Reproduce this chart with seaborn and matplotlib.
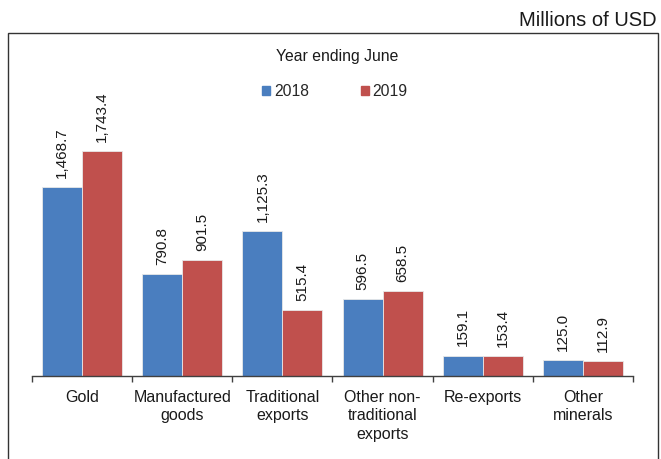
import matplotlib
matplotlib.use("Agg")
import matplotlib.pyplot as plt
import matplotlib.patches as mpatches
import pandas as pd
import seaborn as sns

# Export categories and values (millions of USD), year ending June
categories = ["Gold", "Manufactured\ngoods", "Traditional\nexports",
              "Other non-\ntraditional\nexports", "Re-exports", "Other\nminerals"]
years = ["2018", "2019"]
values_2018 = [1468.7, 790.8, 1125.3, 596.5, 159.1, 125.0]
values_2019 = [1743.4, 901.5, 515.4, 658.5, 153.4, 112.9]

df = pd.DataFrame({
    "category": categories * 2,
    "year": [years[0]] * len(categories) + [years[1]] * len(categories),
    "value": values_2018 + values_2019,
})

sns.set_theme(style="white")
plt.rcParams["font.family"] = ["Liberation Sans", "DejaVu Sans"]

W, H = 661, 459
fig = plt.figure(figsize=(W / 100, H / 100), dpi=100)

# Axes placed in pixel terms: x 32..633, baseline at y=376
ax_left, ax_right = 32, 633
base_y = 376
ymax = 2000
px_per_unit = 0.1288
ax_h = ymax * px_per_unit
ax = fig.add_axes([ax_left / W, 1 - base_y / H, (ax_right - ax_left) / W, ax_h / H])

palette = {"2018": "#4A7EBF", "2019": "#C0504D"}
sns.barplot(data=df, x="category", y="value", hue="year", order=categories,
            hue_order=years, palette=palette, width=0.8, ax=ax,
            edgecolor="#E8E8E8", linewidth=0.6, legend=False, saturation=1)

for cont in ax.containers:
    labels = [f"{b.get_height():,.1f}" for b in cont]
    ax.bar_label(cont, labels=labels, rotation=90, padding=6.5, fontsize=11,
                 color="#1a1a1a", clip_on=False)

ax.set_ylim(0, ymax)
ax.set_xlim(-0.5, len(categories) - 0.5)
ax.set_xlabel("")
ax.set_ylabel("")
ax.set_yticks([])
for s in ["left", "right", "top"]:
    ax.spines[s].set_visible(False)
ax.spines["bottom"].set_color("#404040")
ax.spines["bottom"].set_linewidth(1.0)

# Tick marks sit on category boundaries, labels at category centres
ax.set_xticks([i - 0.5 for i in range(len(categories) + 1)], minor=False)
ax.set_xticklabels([])
ax.set_xticks(range(len(categories)), minor=True)
ax.set_xticklabels(categories, minor=True, fontsize=11.5, color="#1a1a1a",
                   linespacing=1.3)
ax.tick_params(axis="x", which="major", length=4.5, width=1.0, color="#404040",
               direction="out", bottom=True)
ax.tick_params(axis="x", which="minor", length=0, pad=10)

# Legend
handles = [mpatches.Patch(color=palette[y], label=y) for y in years]
fig.legend(handles=handles, loc="center", bbox_to_anchor=(335 / W, 1 - 92 / H),
           ncol=2, frameon=False, fontsize=11.3, handlelength=0.5,
           handleheight=0.5, handletextpad=0.25, columnspacing=3.3)
fig.text(337 / W, 1 - 57 / H, "Year ending June", ha="center", va="center",
         fontsize=11.3, color="#1a1a1a")

# Unit label and chart-area border
fig.text(657 / W, 1 - 20 / H, "Millions of USD", ha="right", va="center",
         fontsize=14.5, color="#1a1a1a")
border = mpatches.Rectangle((8 / W, -0.05), (658 - 8) / W, 1.05 - 33 / H,
                            transform=fig.transFigure, fill=False,
                            edgecolor="#333333", linewidth=1.0)
fig.add_artist(border)

fig.savefig("out.png", dpi=100)
